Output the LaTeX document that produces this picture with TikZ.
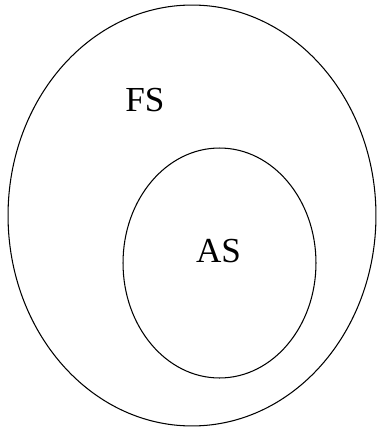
\documentclass[tikz,border=0pt]{standalone}
\usepackage{fontspec}
\setmainfont{Liberation Serif}
\usetikzlibrary{shapes.geometric}

\begin{document}
\begin{tikzpicture}[
  x=0.02cm, y=-0.02cm,
  set/.style={draw=black, ellipse, line width=0.6pt, inner sep=0pt},
  lbl/.style={font=\fontsize{20}{24}\selectfont, inner sep=0pt}
]
\useasboundingbox (0,0) rectangle (378,429);
\node[set, minimum width=7.36cm, minimum height=8.42cm] (fs) at (192,215.5) {};
\node[set, minimum width=3.86cm, minimum height=4.6cm] (as) at (219.5,263) {};
\node[lbl] (fslbl) at (145,100.5) {FS};
\node[lbl] (aslbl) at (218.5,251) {AS};
\end{tikzpicture}
\end{document}
